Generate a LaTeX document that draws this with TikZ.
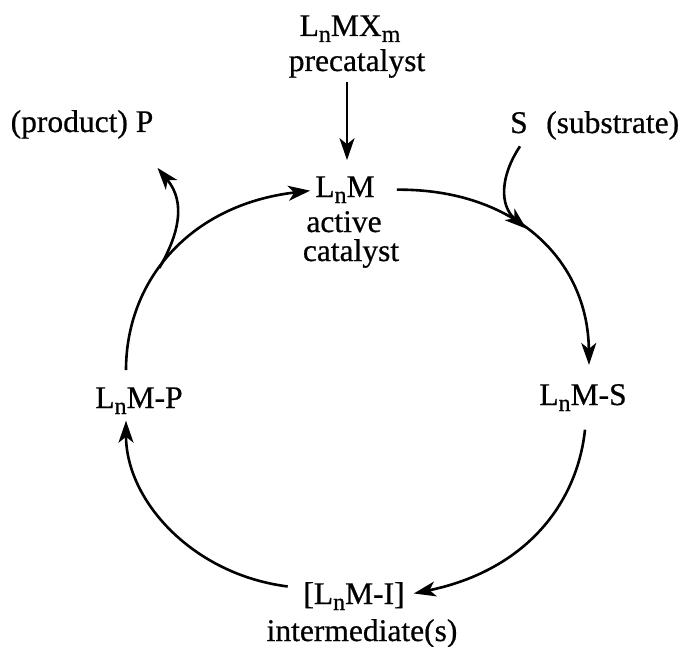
\documentclass[tikz,border=0pt]{standalone}
\usepackage{fontspec}
\setmainfont[FakeBold=0.6]{Liberation Serif}
\usetikzlibrary{arrows.meta,calc}
\newcommand{\sbs}[1]{\raisebox{-6pt}{\fontsize{24}{24}\selectfont #1}}
\begin{document}
\begin{tikzpicture}[x=1pt,y=-1pt,
  lbl/.style={inner sep=0pt,anchor=base,font=\fontsize{31.5}{36}\selectfont},
  conn/.style={line width=2.6pt,-{Stealth[length=22pt,width=15pt,inset=6pt]}}]
\path[use as bounding box] (0,0) rectangle (685,647);
% texts
\node[lbl] (pre) at (350,36) {L\sbs{n}MX\sbs{m}};
\node[lbl] (precat) at (357,71) {precatalyst};
\node[lbl] (prod) at (82,132) {(product) P};
\node[lbl,anchor=base west] (subs) at (510,133) {S\hspace{18.5pt}(substrate)};
\node[lbl] (lnm) at (345,197) {L\sbs{n}M};
\node[lbl] (active) at (344,232) {active};
\node[lbl] (cat) at (351,261) {catalyst};
\node[lbl] (lnmp) at (139,408) {L\sbs{n}M-P};
\node[lbl] (lnms) at (583,405) {L\sbs{n}M-S};
\node[lbl] (lnmi) at (354,604) {[L\sbs{n}M-I]};
\node[lbl] (inter) at (362,641) {intermediate(s)};
% connectors
\draw[conn,line width=2.2pt] ([xshift=-10pt,yshift=-4pt]precat.south) -- ([xshift=2pt,yshift=16pt]lnm.north);
\draw[conn] ([xshift=-13pt,yshift=17pt]lnmp.north) .. controls +(0,-90) and +(-120,14) .. ([xshift=-5pt,yshift=-1pt]lnm.west) coordinate[pos=0.42] (pj);
\draw[conn] ([xshift=22pt]lnm.east) .. controls +(118,-1) and +(-1,-105) .. ([xshift=6pt,yshift=19pt]lnms.north) coordinate[pos=0.45] (sj);
\draw[conn] ([xshift=2pt,yshift=-18.5pt]lnms.south) .. controls +(-8,75) and +(111,-23) .. ([xshift=9pt,yshift=2.6pt]lnmi.east);
\draw[conn] ([xshift=-15.5pt,yshift=9.6pt]lnmi.west) .. controls +(-95,-12) and +(0,80) .. ([xshift=-13pt,yshift=-6.5pt]lnmp.south);
\draw[conn] (pj) .. controls +(19,-33) and +(29,35) .. ([xshift=4pt,yshift=-29pt]prod.south east);
\draw[conn] ([xshift=10pt,yshift=-6.4pt]subs.south west) .. controls +(-20,30) and +(-27,-23) .. (sj);
\end{tikzpicture}
\end{document}
